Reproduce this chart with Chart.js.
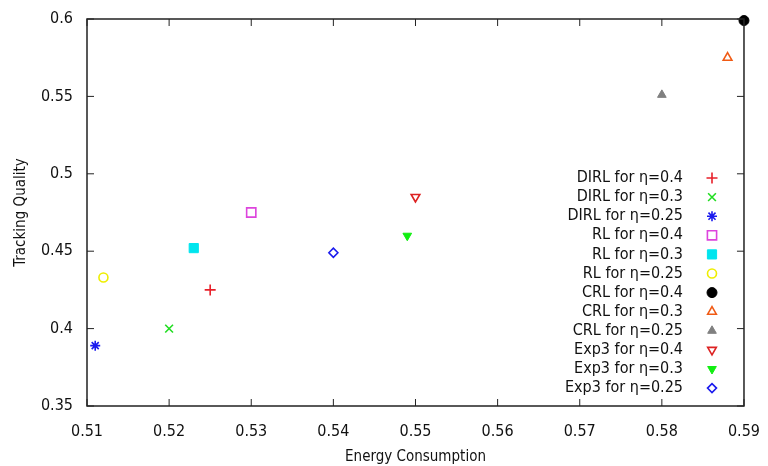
<!DOCTYPE html>
<html>
<head>
<meta charset="utf-8">
<script src="https://cdn.jsdelivr.net/npm/chart.js@4.4.0/dist/chart.umd.min.js"></script>
<style>
  html, body { margin: 0; padding: 0; background: #fff; }
  #wrap { width: 768px; height: 466px; }
</style>
</head>
<body>
<div id="wrap"><canvas id="myChart" width="768" height="466"></canvas></div>
<script>
const seriesLabels = [
    'DIRL for η=0.4', 'DIRL for η=0.3', 'DIRL for η=0.25',
    'RL for η=0.4', 'RL for η=0.3', 'RL for η=0.25',
    'CRL for η=0.4', 'CRL for η=0.3', 'CRL for η=0.25',
    'Exp3 for η=0.4', 'Exp3 for η=0.3', 'Exp3 for η=0.25'
];
const energy = [0.525, 0.52, 0.511, 0.53, 0.523, 0.512, 0.59, 0.588, 0.58, 0.55, 0.549, 0.54];
const quality = [0.425, 0.40, 0.389, 0.475, 0.452, 0.433, 0.599, 0.575, 0.551, 0.485, 0.46, 0.449];
const xTicks = [0.51, 0.52, 0.53, 0.54, 0.55, 0.56, 0.57, 0.58, 0.59];
const yTicks = [0.35, 0.4, 0.45, 0.5, 0.55, 0.6];

// marker look per series
const colors = ['#e8202a', '#22dd22', '#1a1aee', '#dd44dd', '#00e5ee', '#eeee00',
                '#000000', '#f05a14', '#808080', '#dd2222', '#11ee11', '#1a1aee'];
const styles = ['cross', 'crossRot', 'star', 'rect', 'rect', 'circle',
                'circle', 'triangle', 'triangle', 'triangle', 'triangle', 'rectRot'];
const filled = [false, false, false, false, true, false, true, false, true, false, true, false];
const rotations = [0, 0, 0, 0, 0, 0, 0, 0, 0, 180, 180, 0];
const radii = [5.5, 5.5, 5, 6.5, 6.5, 4.5, 5, 5, 5, 5, 5, 4.5];

const datasets = seriesLabels.map(function (lab, i) {
    return {
        label: lab,
        data: [{ x: energy[i], y: quality[i] }],
        pointStyle: styles[i],
        pointRotation: rotations[i],
        pointRadius: radii[i],
        borderColor: colors[i],
        backgroundColor: filled[i] ? colors[i] : '#ffffff',
        borderWidth: filled[i] ? 1 : 1.6
    };
});

const FONT = '"DejaVu Sans Condensed", "DejaVu Sans", sans-serif';
const INK = '#111';

const framePlugin = {
    id: 'frame',
    afterDraw: function (chart) {
        const ctx = chart.ctx, a = chart.chartArea;
        const xs = chart.scales.x, ys = chart.scales.y;
        ctx.save();
        ctx.strokeStyle = '#222';
        ctx.lineWidth = 1.5;
        ctx.strokeRect(a.left, a.top, a.right - a.left, a.bottom - a.top);
        ctx.lineWidth = 1;
        ctx.beginPath();
        xTicks.forEach(function (v) {
            const px = xs.getPixelForValue(v);
            ctx.moveTo(px, a.bottom); ctx.lineTo(px, a.bottom - 7);
            ctx.moveTo(px, a.top); ctx.lineTo(px, a.top + 7);
        });
        yTicks.forEach(function (v) {
            const py = ys.getPixelForValue(v);
            ctx.moveTo(a.left, py); ctx.lineTo(a.left + 7, py);
            ctx.moveTo(a.right, py); ctx.lineTo(a.right - 7, py);
        });
        ctx.stroke();

        // gnuplot style key: text right aligned, marker to the right
        ctx.font = '16px ' + FONT;
        ctx.textAlign = 'right';
        ctx.textBaseline = 'middle';
        chart.data.datasets.forEach(function (ds, i) {
            const y = 178 + i * 19.1;
            ctx.fillStyle = INK;
            ctx.fillText(ds.label, 683, y);
            ctx.strokeStyle = ds.borderColor;
            ctx.fillStyle = ds.backgroundColor;
            ctx.lineWidth = ds.borderWidth;
            Chart.helpers.drawPoint(ctx, {
                pointStyle: ds.pointStyle,
                rotation: ds.pointRotation,
                radius: ds.pointRadius,
                borderWidth: ds.borderWidth
            }, 712, y);
        });
        ctx.restore();
    }
};

const ctx = document.getElementById('myChart').getContext('2d');
new Chart(ctx, {
    type: 'scatter',
    data: { datasets: datasets },
    options: {
        responsive: false,
        animation: false,
        clip: false,
        layout: { padding: { left: 12, right: 19, top: 19, bottom: 0 } },
        plugins: { legend: { display: false }, tooltip: { enabled: false } },
        scales: {
            x: {
                min: 0.51, max: 0.59,
                afterBuildTicks: function (s) { s.ticks = xTicks.map(function (v) { return { value: v }; }); },
                afterFit: function (s) { s.height = 60; },
                grid: { display: false },
                border: { display: false },
                ticks: {
                    color: INK, padding: 8, maxRotation: 0,
                    font: { family: FONT, size: 16 },
                    callback: function (v) { return String(parseFloat(v.toFixed(2))); }
                },
                title: {
                    display: true, text: 'Energy Consumption', color: INK,
                    font: { family: FONT, size: 15 }, padding: { top: 6, bottom: 0 }
                }
            },
            y: {
                min: 0.35, max: 0.6,
                afterBuildTicks: function (s) { s.ticks = yTicks.map(function (v) { return { value: v }; }); },
                afterFit: function (s) { s.width = 75; },
                grid: { display: false },
                border: { display: false },
                ticks: {
                    color: INK, padding: 6,
                    font: { family: FONT, size: 16 },
                    callback: function (v) { return String(parseFloat(v.toFixed(2))); }
                },
                title: {
                    display: true, text: 'Tracking Quality', color: INK,
                    font: { family: FONT, size: 15 }, padding: { top: 0, bottom: 2 }
                }
            }
        }
    },
    plugins: [framePlugin]
});
</script>
</body>
</html>
